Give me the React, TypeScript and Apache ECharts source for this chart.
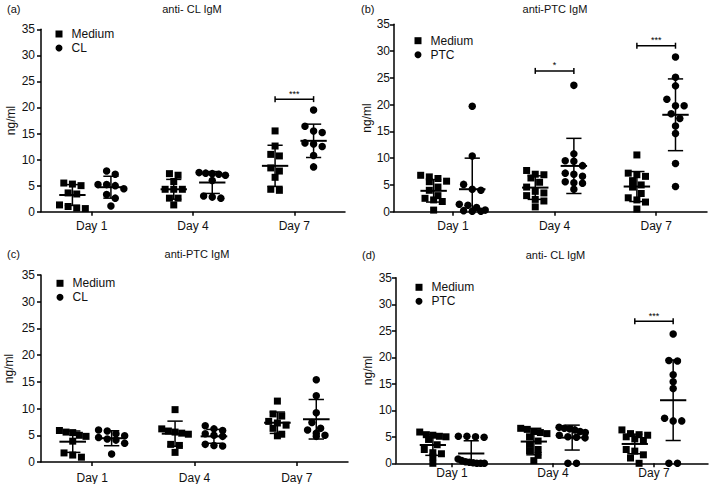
import React, { useEffect, useRef } from "react";
import * as echarts from "echarts";

const FONT = "'Liberation Sans', Arial, Helvetica, sans-serif";

const days = ["Day 1", "Day 4", "Day 7"];
const dayTicks = [1, 3, 5];

// Panel (a) anti- CL IgM : Medium vs CL
const aMedium = [
  [5.5, 5.3, 5.0, 3.6, 3.4, 1.3, 1.0, 0.7, 0.6],
  [7.3, 7.0, 5.8, 4.3, 4.3, 4.3, 2.6, 2.6, 1.3],
  [15.5, 12.6, 11.0, 10.7, 8.4, 7.8, 6.6, 4.3, 4.1],
];
const aCL = [
  [7.8, 7.2, 5.2, 5.2, 5.0, 4.4, 3.3, 2.6, 1.1],
  [7.5, 7.4, 7.3, 7.2, 7.0, 6.0, 3.0, 2.8, 2.6],
  [19.5, 16.4, 15.5, 15.2, 13.2, 13.0, 12.5, 10.8, 8.6],
];
const aMediumMean = [3.2, 4.3, 8.8];
const aMediumSD = [2.0, 1.9, 3.95];
const aCLMean = [4.7, 5.6, 13.6];
const aCLSD = [2.1, 2.1, 3.2];
const aBracketDay = [2];
const aBracketY = [21.6];
const aBracketText = ["***"];

// Panel (b) anti-PTC IgM : Medium vs PTC
const bMedium = [
  [6.8, 6.5, 6.2, 5.7, 5.6, 4.6, 4.0, 3.0, 2.5, 2.2, 1.9, 0.3],
  [7.7, 7.0, 6.9, 6.3, 5.5, 4.6, 3.8, 3.5, 3.0, 2.3, 2.0, 0.9],
  [10.6, 7.2, 6.9, 6.6, 5.8, 5.0, 4.6, 3.4, 2.6, 2.2, 1.8, 0.5],
];
const bPTC = [
  [19.7, 10.4, 5.1, 4.2, 4.0, 1.4, 1.2, 0.8, 0.3, 0.2, 0.1, 0.1],
  [23.6, 10.8, 9.5, 9.4, 8.6, 7.2, 7.0, 6.6, 5.6, 5.4, 5.3, 4.2],
  [28.9, 25.1, 23.5, 21.0, 19.8, 19.8, 18.3, 17.4, 16.0, 14.6, 9.0, 4.7],
];
const bMediumMean = [3.9, 4.5, 4.7];
const bMediumSD = [2.1, 2.2, 2.8];
const bPTCMean = [4.2, 8.55, 18.1];
const bPTCSD = [5.8, 5.15, 6.7];
const bBracketDay = [1, 2];
const bBracketY = [26.3, 31.0];
const bBracketText = ["*", "***"];

// Panel (c) anti-PTC IgM : Medium vs CL
const cMedium = [
  [5.9, 5.6, 5.5, 5.0, 4.8, 3.9, 1.7, 1.3, 0.9],
  [9.8, 6.2, 5.8, 5.6, 5.4, 5.2, 3.3, 3.1, 1.8],
  [11.4, 9.0, 8.6, 7.6, 7.3, 6.9, 6.3, 5.2, 4.9],
];
const cCL = [
  [6.0, 5.8, 5.3, 4.9, 4.6, 4.3, 4.1, 3.5, 1.5],
  [6.8, 6.2, 5.9, 5.3, 5.0, 4.8, 3.3, 3.1, 3.0],
  [15.4, 12.4, 9.2, 7.4, 6.3, 6.0, 5.4, 5.0, 4.8],
];
const cMediumMean = [3.8, 5.3, 7.35];
const cMediumSD = [2.0, 2.35, 2.0];
const cCLMean = [4.45, 4.8, 8.0];
const cCLSD = [1.4, 1.3, 3.7];

// Panel (d) anti- CL IgM : Medium vs PTC
const dMedium = [
  [5.9, 5.4, 5.3, 5.1, 5.0, 4.5, 3.5, 2.6, 2.0, 1.8, 1.2, 0.0],
  [6.6, 6.4, 6.0, 5.8, 5.6, 5.0, 4.2, 3.6, 2.6, 2.4, 1.5, 0.5],
  [6.3, 5.6, 5.4, 5.3, 5.0, 4.6, 4.3, 2.6, 2.3, 1.6, 1.0, 0.0],
];
const dPTC = [
  [5.1, 5.1, 5.0, 4.9, 0.8, 0.5, 0.3, 0.2, 0.1, 0, 0, 0],
  [6.8, 6.6, 6.5, 6.3, 6.0, 5.8, 5.3, 5.0, 4.9, 4.8, 0, 0],
  [24.4, 19.4, 19.3, 16.7, 15.4, 14.1, 8.5, 8.0, 8.0, 0, 0],
];
const dMediumMean = [3.45, 4.1, 3.65];
const dMediumSD = [1.95, 2.5, 1.85];
const dPTCMean = [1.85, 4.85, 11.9];
const dPTCSD = [2.4, 2.35, 7.6];
const dBracketDay = [2];
const dBracketY = [26.8];
const dBracketText = ["***"];

const GROUP_OFFSET = 0.38;
const STEP = 0.17;
const MAX_HALF = 0.26;
const TOL = 1.2;
const MEAN_HALF = 0.26;
const CAP_HALF = 0.15;

function spread(values: number[], center: number) {
  const idx = values.map((_, i) => i).sort((i, j) => values[j] - values[i]);
  const out: number[][] = [];
  let k = 0;
  while (k < idx.length) {
    let e = k + 1;
    while (e < idx.length && values[idx[k]] - values[idx[e]] < TOL) e++;
    const n = e - k;
    let s = STEP;
    if (n > 1 && ((n - 1) * s) / 2 > MAX_HALF) s = (2 * MAX_HALF) / (n - 1);
    for (let t = 0; t < n; t++) {
      out.push([center + (t - (n - 1) / 2) * s, values[idx[k + t]]]);
    }
    k = e;
  }
  return out;
}

const panels = [
  {
    tag: "(a)", title: "anti- CL IgM", other: "CL",
    med: aMedium, oth: aCL, medMean: aMediumMean, medSD: aMediumSD, othMean: aCLMean, othSD: aCLSD,
    bDay: aBracketDay, bY: aBracketY, bText: aBracketText,
    grid: { left: 41, top: 29.3, width: 304, height: 182.4 }, xMin: 0, xMax: 6,
    tagPos: [7, 8.5], titlePos: [192, 8.5], legend: [55.5, 28], nameGap: 24, yMargin: 6, xMargin: 8,
  },
  {
    tag: "(b)", title: "anti-PTC IgM", other: "PTC",
    med: bMedium, oth: bPTC, medMean: bMediumMean, medSD: bMediumSD, othMean: bPTCMean, othSD: bPTCSD,
    bDay: bBracketDay, bY: bBracketY, bText: bBracketText,
    grid: { left: 394, top: 24.3, width: 313, height: 187.4 }, xMin: -0.16, xMax: 6.0,
    tagPos: [361, 8.5], titlePos: [555, 8.5], legend: [414.5, 34.7], nameGap: 19, yMargin: 4, xMargin: 8,
  },
  {
    tag: "(c)", title: "anti-PTC IgM", other: "CL",
    med: cMedium, oth: cCL, medMean: cMediumMean, medSD: cMediumSD, othMean: cCLMean, othSD: cCLSD,
    bDay: [] as number[], bY: [] as number[], bText: [] as string[],
    grid: { left: 41, top: 275, width: 307, height: 187.7 }, xMin: 0, xMax: 6,
    tagPos: [7, 253.5], titlePos: [197, 253.5], legend: [56.5, 277.3], nameGap: 26, yMargin: 6, xMargin: 10,
  },
  {
    tag: "(d)", title: "anti- CL IgM", other: "PTC",
    med: dMedium, oth: dPTC, medMean: dMediumMean, medSD: dMediumSD, othMean: dPTCMean, othSD: dPTCSD,
    bDay: dBracketDay, bY: dBracketY, bText: dBracketText,
    grid: { left: 396, top: 277.8, width: 312, height: 185.5 }, xMin: -0.11, xMax: 6.07,
    tagPos: [362, 255], titlePos: [555.5, 255], legend: [415.5, 281.3], nameGap: 22, yMargin: 4, xMargin: 4,
  },
];

const black = "#000";
const textColor = "#111";

function buildOption() {
  const grids: any[] = [];
  const xAxes: any[] = [];
  const yAxes: any[] = [];
  const legends: any[] = [];
  const series: any[] = [];
  const graphics: any[] = [];

  panels.forEach((p, i) => {
    grids.push({ ...p.grid, containLabel: false });
    xAxes.push({
      gridIndex: i, type: "value", min: p.xMin, max: p.xMax,
      axisLine: { show: true, onZero: false, lineStyle: { color: black, width: 1.5 } },
      axisTick: { show: true, length: 4, customValues: dayTicks, lineStyle: { color: black, width: 1.5 } },
      axisLabel: {
        customValues: dayTicks,
        formatter: (v: number) => { const k = dayTicks.indexOf(v); return k >= 0 ? days[k] : ""; },
        fontSize: 12, color: textColor, fontFamily: FONT, margin: p.xMargin,
      },
      splitLine: { show: false },
    });
    yAxes.push({
      gridIndex: i, type: "value", min: 0, max: 35, interval: 5,
      name: "ng/ml", nameLocation: "middle", nameGap: p.nameGap,
      nameTextStyle: { fontSize: 12, color: textColor, fontFamily: FONT },
      axisLine: { show: true, onZero: false, lineStyle: { color: black, width: 1.5 } },
      axisTick: { show: true, length: 4, lineStyle: { color: black, width: 1.5 } },
      axisLabel: { fontSize: 12, color: textColor, fontFamily: FONT, margin: p.yMargin },
      splitLine: { show: false },
    });
    legends.push({
      orient: "vertical", left: p.legend[0], top: p.legend[1],
      itemWidth: 7, itemHeight: 7, itemGap: 2, padding: 0, selectedMode: false,
      itemStyle: { color: black, opacity: 1 },
      data: [{ name: "Medium", icon: "rect" }, { name: p.other, icon: "circle" }],
      textStyle: { fontSize: 12, color: textColor, fontFamily: FONT, padding: [0, 0, 0, 4] },
    });

    const medPts: number[][] = [];
    const othPts: number[][] = [];
    const bars: number[][] = [];
    dayTicks.forEach((t, d) => {
      medPts.push(...spread(p.med[d], t - GROUP_OFFSET));
      othPts.push(...spread(p.oth[d], t + GROUP_OFFSET));
      bars.push([t - GROUP_OFFSET, p.medMean[d], p.medSD[d]]);
      bars.push([t + GROUP_OFFSET, p.othMean[d], p.othSD[d]]);
    });

    series.push({
      type: "scatter", name: "Medium", xAxisIndex: i, yAxisIndex: i,
      symbol: "rect", symbolSize: 7, clip: false, itemStyle: { color: black, opacity: 1 }, data: medPts,
    });
    series.push({
      type: "scatter", name: p.other, xAxisIndex: i, yAxisIndex: i,
      symbol: "circle", symbolSize: 7.5, clip: false, itemStyle: { color: black, opacity: 1 }, data: othPts,
    });
    series.push({
      type: "custom", name: "sd" + i, xAxisIndex: i, yAxisIndex: i, z: 3,
      encode: { x: 0, y: 1 },
      data: bars,
      renderItem: (params: any, api: any) => {
        const x = api.value(0), m = api.value(1), s = api.value(2);
        const c = api.coord([x, m]);
        const up = api.coord([x, m + s]);
        const low = m - s;
        const lo = api.coord([x, Math.max(0, low)]);
        const capW = api.size([CAP_HALF, 0])[0];
        const meanW = api.size([MEAN_HALF, 0])[0];
        const st = { stroke: black, lineWidth: 1.5 };
        const children: any[] = [
          { type: "line", shape: { x1: c[0], y1: up[1], x2: c[0], y2: lo[1] }, style: st },
          { type: "line", shape: { x1: c[0] - capW, y1: up[1], x2: c[0] + capW, y2: up[1] }, style: st },
          { type: "line", shape: { x1: c[0] - meanW, y1: c[1], x2: c[0] + meanW, y2: c[1] }, style: { stroke: black, lineWidth: 2 } },
        ];
        if (low >= 0) {
          children.push({ type: "line", shape: { x1: c[0] - capW, y1: lo[1], x2: c[0] + capW, y2: lo[1] }, style: st });
        }
        return { type: "group", children };
      },
    });
    if (p.bDay.length) {
      const bdata = p.bDay.map((d, k) => [dayTicks[d] - GROUP_OFFSET, dayTicks[d] + GROUP_OFFSET, p.bY[k]]);
      const texts = p.bText;
      series.push({
        type: "custom", name: "sig" + i, xAxisIndex: i, yAxisIndex: i, z: 3,
        encode: { x: [0, 1], y: 2 },
        data: bdata,
        renderItem: (params: any, api: any) => {
          const a = api.coord([api.value(0), api.value(2)]);
          const b = api.coord([api.value(1), api.value(2)]);
          const st = { stroke: black, lineWidth: 1.5 };
          return {
            type: "group",
            children: [
              { type: "line", shape: { x1: a[0], y1: a[1], x2: b[0], y2: b[1] }, style: st },
              { type: "line", shape: { x1: a[0], y1: a[1] - 3, x2: a[0], y2: a[1] + 3 }, style: st },
              { type: "line", shape: { x1: b[0], y1: b[1] - 3, x2: b[0], y2: b[1] + 3 }, style: st },
              {
                type: "text", x: (a[0] + b[0]) / 2, y: a[1] - 1,
                style: { text: texts[params.dataIndex], textAlign: "center", textVerticalAlign: "bottom", font: `9px ${FONT}`, fill: black },
              },
            ],
          };
        },
      });
    }

    graphics.push({
      type: "text", x: p.tagPos[0], y: p.tagPos[1],
      style: { text: p.tag, font: `11px ${FONT}`, fill: textColor, textAlign: "left", textVerticalAlign: "middle" },
    });
    graphics.push({
      type: "text", x: p.titlePos[0], y: p.titlePos[1],
      style: { text: p.title, font: `11px ${FONT}`, fill: textColor, textAlign: "center", textVerticalAlign: "middle" },
    });
  });

  return {
    animation: false,
    backgroundColor: "#fff",
    textStyle: { fontFamily: FONT },
    grid: grids,
    xAxis: xAxes,
    yAxis: yAxes,
    legend: legends,
    series,
    graphic: graphics,
  };
}

export default function App() {
  const ref = useRef<HTMLDivElement>(null);
  useEffect(() => {
    if (!ref.current) return;
    const chart = echarts.init(ref.current, undefined, { renderer: "svg" });
    chart.setOption(buildOption() as any);
    return () => chart.dispose();
  }, []);
  return (
    <div
      ref={ref}
      style={{ position: "absolute", left: 0, top: 0, width: 709, height: 484, background: "#fff" }}
    />
  );
}
